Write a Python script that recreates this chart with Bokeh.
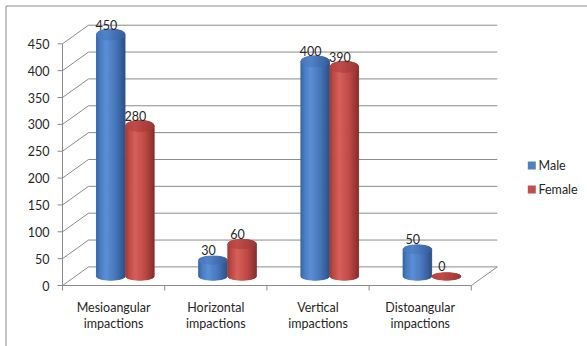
import numpy as np
from bokeh.plotting import figure
from bokeh.models import ColumnDataSource, Range1d
from bokeh.core.properties import value
from bokeh.embed import file_html
from bokeh.resources import INLINE

# ---- data -------------------------------------------------------------
categories = ["Mesioangular impactions", "Horizontal impactions",
              "Vertical impactions", "Distoangular impactions"]
male = [450, 30, 400, 50]
female = [280, 60, 390, 0]
series_names = ["Male", "Female"]
y_ticks = [0, 50, 100, 150, 200, 250, 300, 350, 400, 450]

# ---- layout (pixels) ---------------------------------------------------
W, H = 587, 346
PX_LEFT = 62.0      # front-left corner of the floor
PX_FLOOR = 285.0    # front edge of the floor
CAT_PX = 102.2      # width of one category slot
VAL_PX = 0.5371     # pixels per unit of value
DEPTH_X = 26.0      # 3-D depth offset, pixels
DEPTH_Y = 18.6

def xd(px):
    return (px - PX_LEFT) / CAT_PX

def yd(py):
    return (PX_FLOOR - py) / VAL_PX

DX = DEPTH_X / CAT_PX
DY = DEPTH_Y / VAL_PX
GRID = "#8a8a8a"
TEXT = "#262626"
FONT = value("Lato")
FS = "12.5px"

p = figure(width=W, height=H, output_backend="svg", toolbar_location=None,
           x_range=Range1d(xd(0), xd(W)), y_range=Range1d(yd(H), yd(0)),
           x_axis_type=None, y_axis_type=None, min_border=0,
           background_fill_color="white", border_fill_color="white",
           outline_line_color=None)
p.grid.visible = False

# chart frame
p.quad(left=xd(5.5), right=xd(W + 20), top=yd(5.5), bottom=yd(H + 20),
       fill_color=None, line_color="#8c8c8c", line_width=1)

# ---- walls and floor ----------------------------------------------------
n_cat = len(categories)
ticks = np.array(y_ticks, dtype=float)
top_tick = ticks.max()
# back wall gridlines
p.segment(x0=[DX] * len(ticks), y0=ticks + DY, x1=[n_cat + DX] * len(ticks),
          y1=ticks + DY, line_color=GRID, line_width=1)
# side wall diagonals
p.segment(x0=[0] * len(ticks), y0=ticks, x1=[DX] * len(ticks), y1=ticks + DY,
          line_color=GRID, line_width=1)
# floor front edge and right edge, front value axis
p.segment(x0=[0, n_cat, 0], y0=[0, 0, 0], x1=[n_cat, n_cat + DX, 0],
          y1=[0, DY, top_tick], line_color=GRID, line_width=1)
# value axis tick marks
p.segment(x0=[0] * len(ticks), y0=ticks, x1=[xd(PX_LEFT - 5)] * len(ticks), y1=ticks,
          line_color=GRID, line_width=1)
# category tick marks
cat_edges = np.arange(n_cat + 1, dtype=float)
p.segment(x0=cat_edges, y0=[0] * len(cat_edges), x1=cat_edges,
          y1=[yd(PX_FLOOR + 5)] * len(cat_edges), line_color=GRID, line_width=1)

# value axis labels
p.text(x=[0] * len(ticks), y=ticks, text=[str(t) for t in y_ticks],
       text_align="right", text_baseline="middle", x_offset=-13,
       text_font=FONT, text_font_size=FS, text_color=TEXT)

# category labels, two lines each
first = [c.split(" ", 1)[0] for c in categories]
second = [c.split(" ", 1)[1] for c in categories]
centers = np.arange(n_cat) + 0.5
p.text(x=centers, y=[0] * n_cat, text=first, text_align="center",
       text_baseline="middle", y_offset=22, text_font=FONT,
       text_font_size=FS, text_color=TEXT)
p.text(x=centers, y=[0] * n_cat, text=second, text_align="center",
       text_baseline="middle", y_offset=38, text_font=FONT,
       text_font_size=FS, text_color=TEXT)

# ---- cylinders -----------------------------------------------------------
BODY = {
    "Male": [(-1.0, (52, 96, 160)), (-0.75, (72, 122, 192)), (-0.3, (92, 143, 214)),
             (0.4, (70, 116, 184)), (1.0, (44, 82, 138))],
    "Female": [(-1.0, (158, 54, 51)), (-0.75, (188, 73, 69)), (-0.3, (214, 96, 91)),
               (0.4, (189, 72, 68)), (1.0, (138, 46, 44))],
}
CAP = {
    "Male": [(-1.0, (70, 118, 188)), (-0.3, (82, 131, 200)), (1.0, (54, 94, 158))],
    "Female": [(-1.0, (180, 66, 62)), (-0.3, (192, 76, 72)), (1.0, (156, 56, 53))],
}
SERIES_OFFSET = {"Male": 0.345, "Female": 0.63}
SERIES_VALUES = {"Male": male, "Female": female}
RADIUS = 14.3 / CAT_PX
BASE = DY / 2.0
B_BOTTOM = 4.0 / VAL_PX
N_STRIP = 40


def shade(stops, u):
    us = [s[0] for s in stops]
    rgb = [np.interp(u, us, [s[1][k] for s in stops]) for k in range(3)]
    return "#%02x%02x%02x" % tuple(int(round(c)) for c in rgb)


xs, ys, cols = [], [], []
lab_x, lab_y, lab_t = [], [], []
edges = np.linspace(-1, 1, N_STRIP + 1)
for i in range(n_cat):
    for name in series_names:
        v = SERIES_VALUES[name][i]
        cx = i + SERIES_OFFSET[name] + DX / 2.0
        top = BASE + v
        b_top = (3.5 + 2.0 * min(v, 100) / 100.0) / VAL_PX
        # body strips with rounded bottom
        for k in range(N_STRIP):
            ul, ur = edges[k], edges[k + 1]
            um = 0.5 * (ul + ur)
            xl, xr = cx + RADIUS * ul, cx + RADIUS * ur
            bl = BASE - B_BOTTOM * np.sqrt(max(0.0, 1 - ul * ul))
            br = BASE - B_BOTTOM * np.sqrt(max(0.0, 1 - ur * ur))
            xs.append([xl, xr, xr, xl])
            ys.append([top, top, br, bl])
            cols.append(shade(BODY[name], um))
        # elliptical cap
        for k in range(N_STRIP):
            ul, ur = edges[k], edges[k + 1]
            um = 0.5 * (ul + ur)
            xl, xr = cx + RADIUS * ul, cx + RADIUS * ur
            hl = b_top * np.sqrt(max(0.0, 1 - ul * ul))
            hr = b_top * np.sqrt(max(0.0, 1 - ur * ur))
            xs.append([xl, xr, xr, xl])
            ys.append([top + hl, top + hr, top - hr, top - hl])
            cols.append(shade(CAP[name], um))
        lab_x.append(cx)
        lab_y.append(top)
        lab_t.append(str(v))

src = ColumnDataSource(dict(xs=xs, ys=ys, color=cols))
p.patches(xs="xs", ys="ys", source=src, fill_color="color", line_color="color",
          line_width=0.8)

# value labels above each cylinder
p.text(x=lab_x, y=lab_y, text=lab_t, text_align="center", text_baseline="middle",
       x_offset=-4.5, y_offset=-10, text_font=FONT, text_font_size=FS,
       text_color=TEXT)

# ---- legend ---------------------------------------------------------------
key_colors = {"Male": "#4f81bd", "Female": "#c0504d"}
leg_rows = [yd(165), yd(189)]
p.rect(x=[xd(531.3)] * 2, y=leg_rows, width=8, height=8, width_units="screen",
       height_units="screen", fill_color=[key_colors[n] for n in series_names],
       line_color=None)
p.text(x=[xd(538)] * 2, y=leg_rows, text=series_names, text_align="left",
       text_baseline="middle", text_font=FONT, text_font_size=FS, text_color=TEXT)

open("out.html", "w").write(file_html(p, INLINE))
